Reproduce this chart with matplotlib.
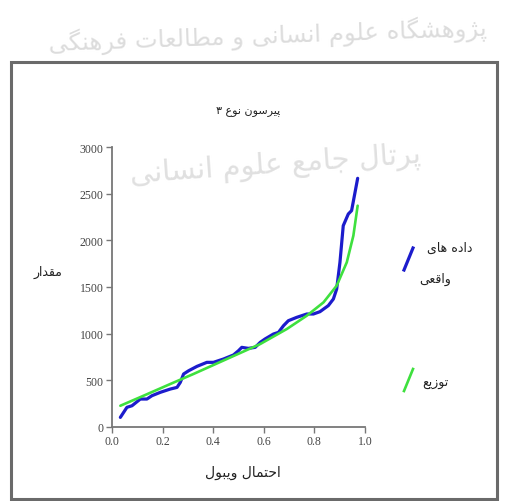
import matplotlib
matplotlib.use("Agg")
import matplotlib.pyplot as plt
from matplotlib.patches import Rectangle

# probability (x) and value (y)
real_p = [0.033, 0.059, 0.079, 0.112, 0.138, 0.158, 0.191, 0.23, 0.257, 0.27,
          0.283, 0.303, 0.336, 0.375, 0.401, 0.441, 0.48, 0.50, 0.513, 0.539,
          0.566, 0.586, 0.605, 0.638, 0.658, 0.678, 0.697, 0.73, 0.77, 0.796,
          0.822, 0.855, 0.875, 0.888, 0.901, 0.914, 0.934, 0.947, 0.971]
real_v = [100, 208, 225, 297, 297, 333, 369, 404, 422, 476,
          566, 601, 648, 691, 691, 727, 770, 816, 852, 841,
          852, 906, 942, 995, 1013, 1085, 1138, 1174, 1210, 1210,
          1235, 1300, 1371, 1478, 1765, 2158, 2284, 2320, 2667]

fit_p = [0.033, 0.125, 0.23, 0.322, 0.454, 0.586, 0.691, 0.77, 0.836, 0.888,
         0.928, 0.954, 0.971]
fit_v = [225, 333, 458, 566, 727, 888, 1049, 1192, 1335, 1514,
         1765, 2051, 2373]

x_ticks = [0.0, 0.2, 0.4, 0.6, 0.8, 1.0]
y_ticks = [0, 500, 1000, 1500, 2000, 2500, 3000]

title = "پیرسون نوع ۳"
xlabel = "احتمال ویبول"
ylabel = "مقدار"
leg_real = ["داده های", "واقعی"]
leg_fit = "توزیع"
wm1 = "پژوهشگاه علوم انسانی و مطالعات فرهنگی"
wm2 = "پرتال جامع علوم انسانی"

# matplotlib has no arabic shaping, so pick presentation forms by hand
FORMS = {
    'ا': (0xFE8D, 0xFE8E), 'د': (0xFEA9, 0xFEAA), 'ر': (0xFEAD, 0xFEAE),
    'ز': (0xFEAF, 0xFEB0), 'ژ': (0xFB8A, 0xFB8B), 'و': (0xFEED, 0xFEEE),
    'ب': (0xFE8F, 0xFE90, 0xFE91, 0xFE92), 'پ': (0xFB56, 0xFB57, 0xFB58, 0xFB59),
    'ت': (0xFE95, 0xFE96, 0xFE97, 0xFE98), 'ج': (0xFE9D, 0xFE9E, 0xFE9F, 0xFEA0),
    'ح': (0xFEA1, 0xFEA2, 0xFEA3, 0xFEA4), 'س': (0xFEB1, 0xFEB2, 0xFEB3, 0xFEB4),
    'ش': (0xFEB5, 0xFEB6, 0xFEB7, 0xFEB8), 'ط': (0xFEC1, 0xFEC2, 0xFEC3, 0xFEC4),
    'ع': (0xFEC9, 0xFECA, 0xFECB, 0xFECC), 'ف': (0xFED1, 0xFED2, 0xFED3, 0xFED4),
    'ق': (0xFED5, 0xFED6, 0xFED7, 0xFED8), 'گ': (0xFB92, 0xFB93, 0xFB94, 0xFB95),
    'ل': (0xFEDD, 0xFEDE, 0xFEDF, 0xFEE0), 'م': (0xFEE1, 0xFEE2, 0xFEE3, 0xFEE4),
    'ن': (0xFEE5, 0xFEE6, 0xFEE7, 0xFEE8), 'ه': (0xFEE9, 0xFEEA, 0xFEEB, 0xFEEC),
    'ی': (0xFBFC, 0xFBFD, 0xFBFE, 0xFBFF),
}


def fa(s):
    out = []
    for i, c in enumerate(s):
        if c not in FORMS:
            out.append(c)
            continue
        prev = s[i - 1] if i > 0 else ''
        nxt = s[i + 1] if i + 1 < len(s) else ''
        join_prev = prev in FORMS and len(FORMS[prev]) == 4
        join_next = len(FORMS[c]) == 4 and nxt in FORMS
        f = FORMS[c]
        if join_prev and join_next:
            out.append(chr(f[3]))
        elif join_prev:
            out.append(chr(f[1]))
        elif join_next:
            out.append(chr(f[2]))
        else:
            out.append(chr(f[0]))
    return ''.join(out)[::-1]


W, H = 509, 502
fig = plt.figure(figsize=(W / 100, H / 100), dpi=100)
fa_font = ['DejaVu Sans']

# watermark in the background
fig.text(268 / W, 1 - 36 / H, fa(wm1), fontsize=17.5, color='#dcdcdc',
         family=fa_font, ha='center', va='center', rotation=2, zorder=0)
fig.text(275 / W, 1 - 165 / H, fa(wm2), fontsize=21, color='#e0e0e0',
         family=fa_font, ha='center', va='center', rotation=4, zorder=0)

# outer frame
fig.patches.append(Rectangle((10.5 / W, 1 - 500 / H), 486 / W, 437 / H,
                             transform=fig.transFigure, fill=False,
                             edgecolor='#6a6a6a', linewidth=2.2, zorder=1))

ax = fig.add_axes([112 / W, 1 - 427.7 / H, 253 / W, 279.4 / H])
ax.patch.set_alpha(0)
ax.plot(real_p, real_v, color='#1c1ccc', linewidth=2.3, solid_capstyle='round')
ax.plot(fit_p, fit_v, color='#3ee03e', linewidth=1.9, solid_capstyle='round')

ax.set_xlim(0, 1.0)
ax.set_ylim(0, 3000)
ax.set_xticks(x_ticks)
ax.set_xticklabels(["%.1f" % t for t in x_ticks])
ax.set_yticks(y_ticks)
for s in ['top', 'right']:
    ax.spines[s].set_visible(False)
for s in ['left', 'bottom']:
    ax.spines[s].set_color('#777777')
    ax.spines[s].set_linewidth(1.3)
ax.tick_params(direction='out', length=4, width=1, color='#777777',
               labelsize=8.5, labelcolor='#444444', pad=2)
for lab in ax.get_xticklabels() + ax.get_yticklabels():
    lab.set_family('Liberation Serif')

fig.text(248 / W, 1 - 111 / H, fa(title), fontsize=8, family=fa_font,
         ha='center', va='center', color='#222222')
fig.text(243 / W, 1 - 473 / H, fa(xlabel), fontsize=10, family=fa_font,
         ha='center', va='center', color='#222222')
fig.text(48 / W, 1 - 272 / H, fa(ylabel), fontsize=9, family=fa_font,
         ha='center', va='center', color='#222222')

# legend, drawn as slanted strokes with labels beside them
fig.add_artist(plt.Line2D([404 / W, 413 / W], [1 - 271 / H, 1 - 249 / H],
                          color='#1c1ccc', linewidth=2.3))
fig.add_artist(plt.Line2D([404 / W, 413 / W], [1 - 392 / H, 1 - 370 / H],
                          color='#3ee03e', linewidth=1.9))
fig.text(450 / W, 1 - 248 / H, fa(leg_real[0]), fontsize=9, family=fa_font,
         ha='center', va='center', color='#222222')
fig.text(435 / W, 1 - 279 / H, fa(leg_real[1]), fontsize=9, family=fa_font,
         ha='center', va='center', color='#222222')
fig.text(435 / W, 1 - 384 / H, fa(leg_fit), fontsize=9, family=fa_font,
         ha='center', va='center', color='#222222')

fig.savefig("out.png", dpi=100)
